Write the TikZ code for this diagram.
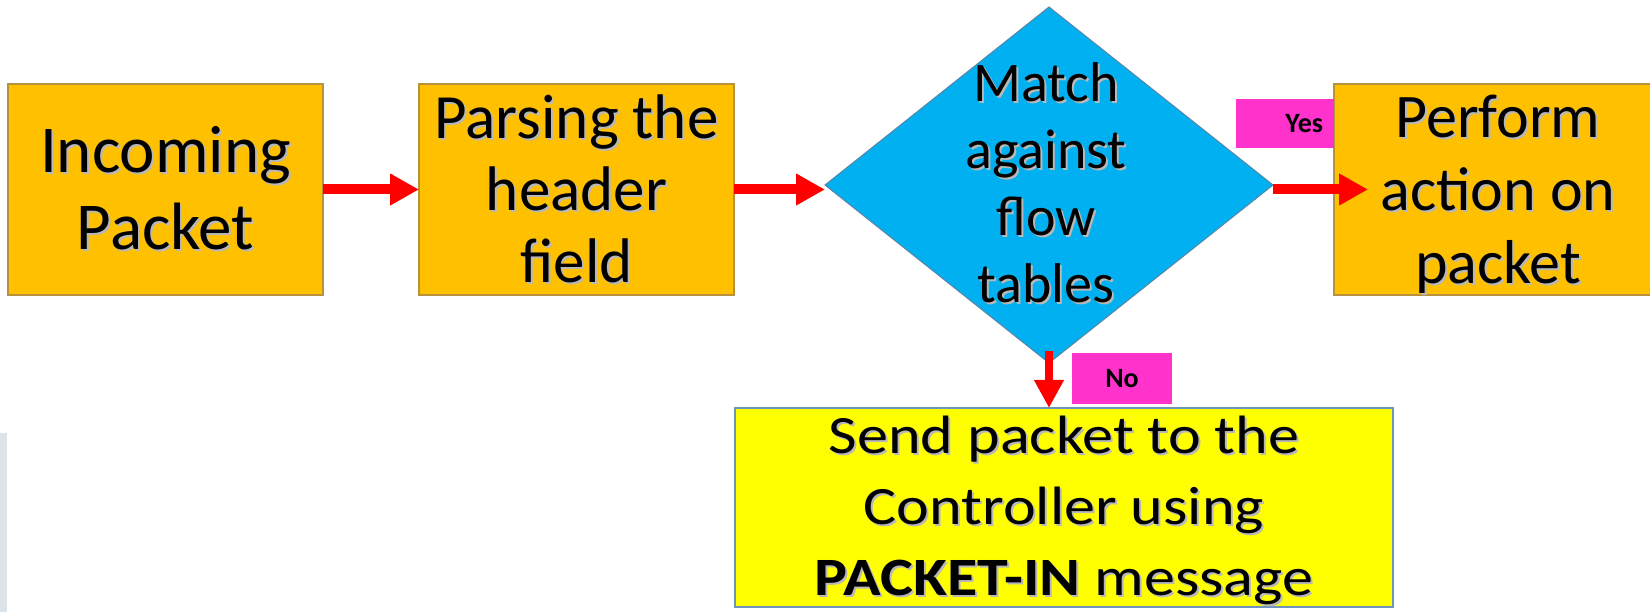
\documentclass[tikz,border=0pt]{standalone}
\usepackage{fontspec}
\setmainfont{Carlito}
\newfontfamily\widefont{Carlito}[FakeStretch=1.15]
\usetikzlibrary{shapes.geometric,arrows.meta}

\definecolor{boxorange}{HTML}{FFC000}
\definecolor{boxedge}{HTML}{B8923A}
\definecolor{decisionblue}{HTML}{00B0F0}
\definecolor{decisionedge}{HTML}{5A86A8}
\definecolor{tagpink}{HTML}{FF33CC}
\definecolor{ctrlyellow}{HTML}{FFFF00}
\definecolor{ctrledge}{HTML}{6F93BF}
\definecolor{flowred}{HTML}{FF0000}
\definecolor{sideband}{HTML}{DCE4EA}

% text with a soft drop shadow, one line at a time
\newcommand\shd[1]{\leavevmode\rlap{\kern2pt\raisebox{-2pt}{\color{black!28}#1}}#1}

\tikzset{
  stepbox/.style={rectangle, fill=boxorange, draw=boxedge, line width=1.3pt,
    minimum height=211pt, inner sep=0pt, outer sep=0pt, align=center},
  decision/.style={diamond, fill=decisionblue, draw=decisionedge, line width=1pt,
    inner sep=0pt, outer sep=0pt, minimum width=448pt, minimum height=356pt},
  ctrlbox/.style={rectangle, fill=ctrlyellow, draw=ctrledge, line width=1.6pt,
    inner sep=0pt, outer sep=0pt, minimum width=658pt, minimum height=199pt},
  caption/.style={align=center, inner sep=0pt},
  tag/.style={rectangle, fill=tagpink, inner sep=0pt, outer sep=0pt,
    font=\fontsize{28pt}{30pt}\selectfont\bfseries},
  flow/.style={draw=flowred, line width=10pt, -{Triangle[length=29pt,width=30pt]}},
  flowdown/.style={draw=flowred, line width=8pt, -{Triangle[length=28pt,width=28pt]}},
}

\begin{document}
\begin{tikzpicture}[x=1pt, y=-1pt]
\useasboundingbox (0,0) rectangle (1650,612);

% faint band along the lower left edge
\fill[sideband] (0,433) rectangle (7,612);

% process boxes
\node[stepbox, minimum width=315pt, font=\fontsize{67pt}{77pt}\selectfont]
  (incoming) at (165.5,189.5) {\shd{Incoming}\\\shd{Packet}};
\node[stepbox, minimum width=315pt, font=\fontsize{63pt}{72pt}\selectfont]
  (parse) at (576.5,189.5) {\shd{Parsing the}\\\shd{header}\\\shd{field}};
\node[stepbox, minimum width=320pt] (act) at (1494,189.5) {};
\node[caption, font=\fontsize{62pt}{73pt}\selectfont]
  (acttext) at (1498,195) {\shd{Perform}\\\shd{action on}\\\shd{packet}};

% decision
\node[decision] (match) at (1049,185) {};
\node[caption, font=\fontsize{56pt}{67pt}\selectfont]
  (matchtext) at (1046,184) {\shd{Match}\\\shd{against}\\\shd{flow}\\\shd{tables}};

% controller box
\node[ctrlbox] (ctrl) at (1064,507.5) {};
\node[caption, font=\widefont\fontsize{54pt}{71pt}\selectfont]
  (ctrltext) at (1064,511)
  {\shd{Send packet to the}\\\shd{Controller using}\\\shd{\textbf{PACKET-IN} message}};

% branch tags
\node[tag, minimum width=98pt, minimum height=49pt, text width=76pt, align=right,
  inner xsep=11pt] (yes) at (1285,123.5) {Yes};
\node[tag, minimum width=100pt, minimum height=51pt] (no) at (1122,378.5) {No};

% connectors
\draw[flow] (incoming.east) -- (parse.west);
\draw[flow] (parse.east) -- (parse.east -| match.west);
\draw[flow] (match.east |- act.west) -- ([xshift=34pt]act.west);
\draw[flowdown] ([yshift=12pt]match.south) -- (match.south |- ctrl.north);
\end{tikzpicture}
\end{document}
